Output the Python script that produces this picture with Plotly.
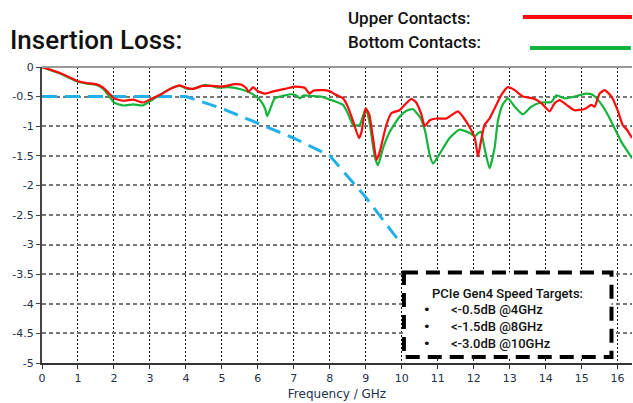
import plotly.graph_objects as go

# Upper contacts (red)
freq_upper = [0, 0.5, 1.0, 1.24, 1.5, 1.7, 1.9, 2.0, 2.26, 2.54, 2.8, 3.0, 3.28, 3.56, 3.83, 4.0,
              4.2, 4.45, 4.74, 5.0, 5.36, 5.55, 5.68, 5.74, 5.87, 6.0, 6.2, 6.38, 6.75, 7.03, 7.3,
              7.44, 7.54, 7.86, 8.0, 8.14, 8.37, 8.5, 8.65, 8.81, 8.88, 9.0, 9.1, 9.2, 9.3, 9.39,
              9.57, 9.71, 9.94, 10.08, 10.27, 10.4, 10.55, 10.64, 10.78, 10.96, 11.24, 11.56, 11.7,
              11.9, 12.03, 12.12, 12.2, 12.3, 12.44, 12.58, 12.77, 12.95, 13.14, 13.37, 13.65,
              13.88, 14.11, 14.25, 14.39, 14.58, 14.8, 15.08, 15.27, 15.36, 15.5, 15.64, 15.83,
              16.0, 16.14, 16.26, 16.4]
loss_upper = [0, -0.1, -0.24, -0.27, -0.29, -0.35, -0.47, -0.53, -0.57, -0.55, -0.6, -0.55, -0.47,
              -0.37, -0.31, -0.35, -0.37, -0.32, -0.32, -0.33, -0.29, -0.3, -0.36, -0.42, -0.34,
              -0.41, -0.45, -0.42, -0.37, -0.33, -0.35, -0.45, -0.4, -0.39, -0.41, -0.46, -0.53,
              -0.67, -0.92, -1.2, -1.1, -0.7, -0.81, -1.2, -1.57, -1.43, -0.98, -0.78, -0.73, -0.64,
              -0.54, -0.6, -0.81, -1.0, -0.9, -0.87, -0.87, -0.75, -0.84, -1.03, -1.2, -1.51, -1.26,
              -0.98, -0.87, -0.7, -0.47, -0.34, -0.39, -0.5, -0.53, -0.61, -0.75, -0.61, -0.56,
              -0.64, -0.73, -0.71, -0.64, -0.67, -0.45, -0.39, -0.5, -0.73, -0.98, -1.06, -1.2]

# Bottom contacts (green)
freq_bottom = [0, 0.5, 1.0, 1.24, 1.5, 1.7, 1.9, 2.0, 2.26, 2.54, 2.8, 3.0, 3.28, 3.56, 3.83, 4.0,
               4.2, 4.53, 4.9, 5.18, 5.55, 5.83, 6.05, 6.2, 6.26, 6.33, 6.47, 6.75, 6.93, 7.07,
               7.17, 7.26, 7.5, 7.77, 8.0, 8.14, 8.37, 8.5, 8.65, 8.83, 8.93, 9.0, 9.1, 9.25, 9.34,
               9.48, 9.67, 9.94, 10.13, 10.3, 10.5, 10.64, 10.78, 10.87, 11.06, 11.33, 11.6, 11.9,
               12.03, 12.12, 12.2, 12.3, 12.44, 12.58, 12.67, 12.8, 12.95, 13.14, 13.37, 13.6,
               13.88, 14.16, 14.3, 14.53, 14.8, 15.12, 15.3, 15.5, 15.73, 15.92, 16.1, 16.28, 16.4]
loss_bottom = [0, -0.11, -0.25, -0.28, -0.3, -0.37, -0.52, -0.6, -0.65, -0.63, -0.65, -0.58, -0.47,
               -0.37, -0.32, -0.36, -0.37, -0.3, -0.35, -0.34, -0.38, -0.45, -0.55, -0.7, -0.83,
               -0.73, -0.53, -0.48, -0.46, -0.48, -0.53, -0.48, -0.49, -0.5, -0.55, -0.58, -0.64,
               -0.78, -0.98, -0.98, -0.81, -0.7, -0.92, -1.52, -1.66, -1.37, -1.09, -0.84, -0.74,
               -0.71, -0.84, -1.06, -1.49, -1.63, -1.46, -1.2, -1.06, -1.12, -1.17, -1.12, -1.09,
               -1.37, -1.71, -1.37, -0.92, -0.64, -0.53, -0.67, -0.8, -0.67, -0.6, -0.59, -0.48,
               -0.53, -0.5, -0.45, -0.47, -0.59, -0.81, -1.04, -1.26, -1.43, -1.54]

# PCIe Gen4 target limit line
freq_target = [0, 4, 5, 6, 7, 8, 9, 10]
loss_target = [-0.5, -0.5, -0.7, -0.95, -1.2, -1.5, -2.2, -3.0]

x_ticks = list(range(0, 17))
y_ticks = [0, -0.5, -1, -1.5, -2, -2.5, -3, -3.5, -4, -4.5, -5]
y_tick_text = ["0", "-0.5", "-1", "-1.5", "-2", "-2.5", "-3", "-3.5", "-4", "-4.5", "-5"]

title_text = "Insertion Loss:"
legend_upper = "Upper Contacts:"
legend_bottom = "Bottom Contacts:"
box_heading = "PCIe Gen4 Speed Targets:"
box_items = ["&lt;-0.5dB @4GHz", "&lt;-1.5dB @8GHz", "&lt;-3.0dB @10GHz"]

RED = "#ff0a0a"
GREEN = "#14b43c"
BLUE = "#22b0ea"
DIN = "Roboto"

fig = go.Figure()
fig.add_trace(go.Scatter(x=freq_target, y=loss_target, mode="lines",
                         line=dict(color=BLUE, width=3, dash="15px,8px"), showlegend=False))
fig.add_trace(go.Scatter(x=freq_bottom, y=loss_bottom, mode="lines",
                         line=dict(color=GREEN, width=2.2, shape="spline", smoothing=0.5),
                         showlegend=False))
fig.add_trace(go.Scatter(x=freq_upper, y=loss_upper, mode="lines",
                         line=dict(color=RED, width=2.2, shape="spline", smoothing=0.5),
                         showlegend=False))

tickfont = dict(family="DejaVu Sans", size=11, color="#23304a")

fig.update_layout(
    width=633, height=403,
    margin=dict(l=42, r=1, t=67, b=40),
    paper_bgcolor="white", plot_bgcolor="white",
    xaxis=dict(range=[0, 16.4], tickvals=x_ticks, showgrid=True, gridcolor="#111",
               griddash="2px,2px", gridwidth=1, showline=True, linecolor="#333", linewidth=1.5,
               ticks="outside", ticklen=4, tickcolor="#333", tickfont=tickfont, zeroline=False,
               title=dict(text="Frequency / GHz", font=dict(family="DejaVu Sans", size=12,
                                                             color="#23304a"), standoff=6)),
    yaxis=dict(range=[-5, 0], tickvals=y_ticks, ticktext=y_tick_text, showgrid=True,
               gridcolor="#777", griddash="4px,3px", gridwidth=1.5, showline=True,
               linecolor="#444", linewidth=2, ticks="outside", ticklen=4, tickcolor="#444",
               tickfont=tickfont, zeroline=False),
    shapes=[
        dict(type="line", xref="paper", yref="paper", x0=0, x1=1, y0=1, y1=1,
             line=dict(color="#999", width=2)),
        dict(type="line", xref="paper", yref="paper", x0=0.815, x1=1.0, y0=1.169, y1=1.169,
             line=dict(color=RED, width=4)),
        dict(type="line", xref="paper", yref="paper", x0=0.827, x1=0.998, y0=1.064, y1=1.064,
             line=dict(color=GREEN, width=4)),
        dict(type="rect", xref="x", yref="y", x0=10.06, x1=15.83, y0=-3.47, y1=-4.9,
             line=dict(color="black", width=4, dash="14px,8px"), fillcolor="white"),
    ],
    annotations=[
        dict(text=title_text, xref="paper", yref="paper", x=-0.058, y=1.091, xanchor="left",
             yanchor="middle", showarrow=False,
             font=dict(family=DIN, size=26, color="#111", weight=500)),
        dict(text=legend_upper, xref="paper", yref="paper", x=0.515, y=1.166, xanchor="left",
             yanchor="middle", showarrow=False,
             font=dict(family=DIN, size=17, color="#111", weight=500)),
        dict(text=legend_bottom, xref="paper", yref="paper", x=0.515, y=1.084, xanchor="left",
             yanchor="middle", showarrow=False,
             font=dict(family=DIN, size=17, color="#111", weight=500)),
        dict(text=box_heading, xref="x", yref="y", x=12.95, y=-3.83, xanchor="center",
             yanchor="middle", showarrow=False,
             font=dict(family=DIN, size=13, color="#111", weight=500)),
        dict(text="<br>".join(["•"] * len(box_items)), xref="x", yref="y", x=10.7, y=-4.39,
             xanchor="center", yanchor="middle", showarrow=False, align="center",
             font=dict(family="DejaVu Sans", size=13, color="#111")),
        dict(text="<br>".join(box_items), xref="x", yref="y", x=11.3, y=-4.39,
             xanchor="left", yanchor="middle", showarrow=False, align="left",
             font=dict(family=DIN, size=13, color="#111", weight=500)),
    ],
)

fig.write_html("out.html", config={"displayModeBar": False},
               post_script="document.body.style.margin='0';document.body.style.overflow='hidden';")
